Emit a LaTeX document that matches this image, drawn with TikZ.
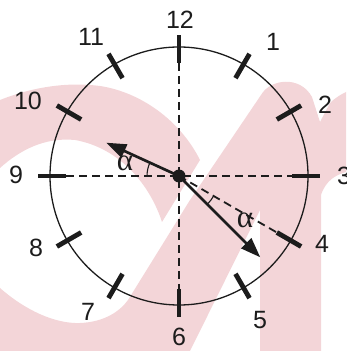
\documentclass[tikz,border=0pt]{standalone}
\usepackage{fontspec}
\setmainfont{Liberation Sans}
\newfontfamily\grkfont{Liberation Serif}
\usetikzlibrary{arrows.meta,calc}
\definecolor{wm}{RGB}{243,213,216}
\definecolor{ink}{RGB}{28,28,28}
\begin{document}
\begin{tikzpicture}[x=1pt,y=1pt,
  tickmark/.style={line width=4.8pt, draw=ink},
  rim/.style={line width=1.3pt, draw=ink},
  guide/.style={line width=1.8pt, draw=ink, dash pattern=on 8pt off 5pt},
  hand/.style={line width=2.7pt, draw=ink, -{Triangle[length=20pt,width=14pt]}},
  anglearc/.style={line width=1.1pt, draw=ink},
  hour/.style={font=\fontsize{25}{25}\selectfont, text=ink, inner sep=0pt},
  alab/.style={font=\grkfont\fontsize{31}{31}\selectfont, text=ink, inner sep=0pt}]
\useasboundingbox (0,0) rectangle (346,351);
% watermark
\fill[wm] (0,251) .. controls (35,265) and (70,269) .. (100,265)
  .. controls (140,259) and (180,231) .. (200,191) -- (162,129)
  .. controls (150,166) and (120,203) .. (75,211)
  .. controls (45,214) and (20,201) .. (0,183) -- cycle;
\fill[wm] (0,63) .. controls (25,41) and (55,27) .. (80,28)
  .. controls (105,29) and (120,40) .. (128,51)
  -- (190,151) -- (261,256)
  .. controls (270,272) and (300,276) .. (312,254)
  -- (320,229) -- (330,248)
  .. controls (336,254) and (342,257) .. (346,259)
  -- (346,179) .. controls (336,176) and (326,171) .. (321,156)
  -- (321,0) -- (260,0) -- (260,141) -- (190,0) -- (0,0) -- cycle;
% clock
\coordinate (c) at (179,175);
\draw[rim] (c) circle (129);
\foreach \k in {0,...,11} {
  \coordinate (i\k) at ($(c)+(90-30*\k:113)$);
  \coordinate (o\k) at ($(c)+(90-30*\k:141)$);
  \draw[tickmark] (i\k) -- (o\k);
}
\draw[guide] (i0) -- (i6);
\draw[guide] (i9) -- (i3);
\draw[guide] (c) -- (i4);
\draw[anglearc] ($(c)+(155.4:32)$) arc (155.4:180:32);
\draw[anglearc] ($(c)+(-30:40)$) arc (-30:-45:40);
\coordinate (hA) at ($(c)+(155.4:80)$);
\coordinate (hB) at ($(c)+(-45:115)$);
\draw[hand] (c) -- (hA);
\draw[hand] (c) -- (hB);
\fill[ink] (c) circle (6.5);
\node[alab] (a1) at (125,188) {α};
\node[alab] (a2) at (245,131) {α};
\node[hour] (n12) at (180,331) {12};
\node[hour] (n1) at (273,309) {1};
\node[hour] (n2) at (325,246) {2};
\node[hour] (n3) at (344,175) {3};
\node[hour] (n4) at (322,107) {4};
\node[hour] (n5) at (260,31) {5};
\node[hour] (n6) at (179,14) {6};
\node[hour] (n7) at (88,39) {7};
\node[hour] (n8) at (36,103) {8};
\node[hour] (n9) at (16,176) {9};
\node[hour] (n10) at (28,250) {10};
\node[hour] (n11) at (91,314) {11};
\end{tikzpicture}
\end{document}
